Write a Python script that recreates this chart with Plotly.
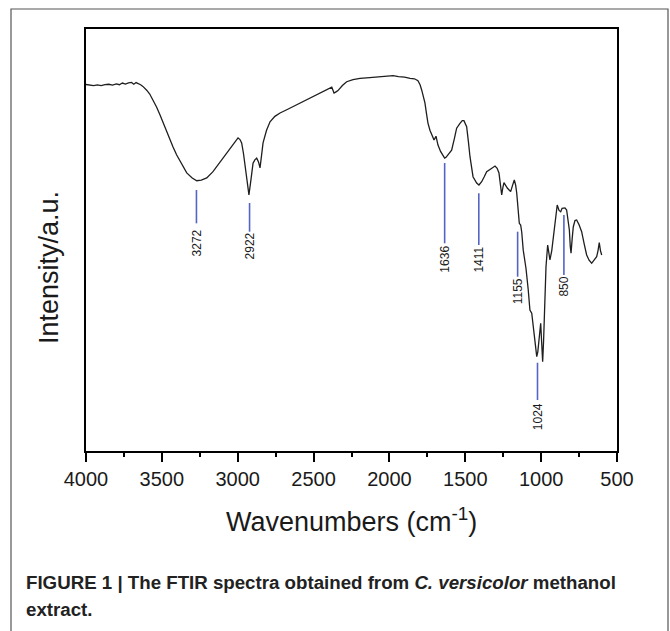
import plotly.graph_objects as go

# ---- data ----
wavenumber = [4000, 3975, 3950, 3925, 3900, 3875, 3850, 3825, 3800, 3780, 3760, 3740, 3720, 3700,
              3685, 3670, 3655, 3640, 3625, 3611, 3600, 3580, 3558, 3535, 3512, 3490, 3468, 3448,
              3427, 3403, 3380, 3358, 3336, 3300, 3270, 3240, 3204, 3163, 3130, 3097, 3065, 3031,
              3010, 2998, 2985, 2974, 2962, 2952, 2940, 2926, 2912, 2899, 2887, 2875, 2863, 2853,
              2843, 2833, 2810, 2787, 2755, 2721, 2680, 2636, 2580, 2524, 2470, 2413, 2380, 2372,
              2365, 2352, 2339, 2310, 2282, 2240, 2194, 2130, 2062, 2020, 1976, 1940, 1900, 1864,
              1835, 1812, 1798, 1787, 1776, 1766, 1756, 1746, 1733, 1721, 1706, 1693, 1680, 1663,
              1647, 1636, 1627, 1610, 1590, 1572, 1557, 1535, 1520, 1509, 1491, 1480, 1469, 1449,
              1425, 1410, 1392, 1375, 1359, 1330, 1304, 1290, 1278, 1268, 1260, 1252, 1245, 1223,
              1201, 1188, 1177, 1168, 1161, 1150, 1144, 1135, 1128, 1118, 1100, 1085, 1074, 1062,
              1052, 1040, 1029, 1022, 1016, 1010, 1003, 997, 990, 984, 979, 974, 968, 957, 950,
              942, 930, 920, 906, 894, 882, 871, 862, 854, 843, 832, 822, 814, 808, 803, 795, 788,
              777, 766, 750, 733, 716, 700, 684, 667, 650, 634, 625, 617, 609, 601]
intensity = [86.85, 86.7, 86.6, 86.75, 86.6, 86.8, 86.9, 86.7, 87.0, 86.8, 87.2, 86.95, 87.25, 87.35,
             86.9, 87.3, 87.1, 86.8, 86.4, 86.0, 85.5, 84.6, 83.2, 81.5, 79.6, 77.6, 75.7, 73.9,
             72.1, 70.2, 68.6, 67.1, 65.9, 64.7, 64.05, 64.2, 64.7, 66.2, 67.8, 69.4, 71.0, 72.5,
             73.6, 74.2, 73.8, 73.0, 70.5, 67.4, 64.5, 60.7, 64.5, 68.2, 69.0, 69.4, 68.5, 67.1,
             70.0, 73.0, 76.0, 78.0, 79.3, 80.1, 80.8, 81.6, 82.6, 83.6, 84.7, 85.7, 86.2, 85.5,
             84.8, 85.1, 85.4, 86.6, 87.5, 88.0, 88.3, 88.5, 88.7, 88.8, 88.95, 88.7, 88.6, 88.3,
             88.2, 87.75, 86.8, 85.5, 84.0, 82.5, 80.0, 77.7, 76.0, 74.9, 73.7, 74.6, 72.5, 71.0,
             70.1, 69.4, 69.6, 70.4, 71.3, 74.0, 76.5, 77.65, 78.3, 78.27, 76.85, 73.5, 69.74, 65.0,
             63.5, 63.03, 63.82, 65.0, 66.18, 66.9, 67.54, 67.0, 65.88, 63.0, 60.66, 62.5, 63.58, 62.32,
             61.45, 63.0, 64.22, 63.0, 61.14, 56.5, 53.96, 53.55, 51.9, 47.6, 43.3, 38.15, 33.41, 32.63,
             29.45, 25.5, 22.35, 23.5, 25.52, 28.0, 30.26, 26.0, 21.16, 26.0, 32.7, 38.0, 43.67, 48.82, 47.0,
             45.26, 47.5, 50.78, 55.0, 58.29, 57.0, 56.71, 57.5, 57.51, 57.6, 57.11, 55.0, 52.37, 48.5, 46.85, 50.5, 53.15,
             54.6, 54.74, 53.6, 51.97, 49.0, 46.45, 45.2, 44.48, 45.3, 46.04, 47.5, 49.36, 47.5, 46.45]

peak_wn = [3272, 2922, 1636, 1411, 1155, 1024, 850]
peak_line_top = [61.85, 58.77, 68.25, 61.07, 51.97, 20.92, 55.92]
peak_line_bottom = [53.95, 51.97, 49.22, 48.82, 41.30, 12.09, 41.71]
peak_label_y = [49.3, 48.6, 45.5, 45.3, 37.75, 8.13, 38.93]
peak_labels = [str(p) for p in peak_wn]

x_ticks = [4000, 3500, 3000, 2500, 2000, 1500, 1000, 500]

FONT = "Liberation Sans, Arial, Helvetica, sans-serif"

fig = go.Figure()

fig.add_trace(go.Scatter(x=wavenumber, y=intensity, mode="lines",
                         line=dict(color="#1e1e1e", width=1.3), hoverinfo="skip",
                         showlegend=False))

# peak marker lines
lx, ly = [], []
for w, t, b in zip(peak_wn, peak_line_top, peak_line_bottom):
    lx += [w, w, None]
    ly += [t, b, None]
fig.add_trace(go.Scatter(x=lx, y=ly, mode="lines",
                         line=dict(color="#5564c4", width=1.6), hoverinfo="skip",
                         showlegend=False))

for w, yl, txt in zip(peak_wn, peak_label_y, peak_labels):
    fig.add_annotation(x=w, y=yl, text=txt, showarrow=False, textangle=-90,
                       xanchor="center", yanchor="middle",
                       font=dict(family=FONT, size=12, color="#1a1a1a"))

# axis titles
fig.add_annotation(xref="paper", yref="paper", x=0.5, y=(451 - 520) / 422,
                   text="Wavenumbers (cm<sup>-1</sup>)", showarrow=False,
                   xanchor="center", yanchor="middle",
                   font=dict(family=FONT, size=27, color="#1a1a1a"))
fig.add_annotation(xref="paper", yref="paper", x=(49 - 86) / 531, y=(451 - 268) / 422,
                   text="Intensity/a.u.", showarrow=False, textangle=-90,
                   xanchor="center", yanchor="middle",
                   font=dict(family=FONT, size=27, color="#1a1a1a"))

# caption
fig.add_annotation(xref="paper", yref="paper", x=(24 - 86) / 531, y=(451 - 582) / 422,
                   text="<b>FIGURE 1 | The FTIR spectra obtained from <i>C. versicolor</i> methanol</b>",
                   showarrow=False, xanchor="left", yanchor="middle",
                   font=dict(family=FONT, size=18.7, color="#222222"))
fig.add_annotation(xref="paper", yref="paper", x=(24 - 86) / 531, y=(451 - 609) / 422,
                   text="<b>extract.</b>",
                   showarrow=False, xanchor="left", yanchor="middle",
                   font=dict(family=FONT, size=18.7, color="#222222"))

# outer frame (open at bottom)
x0 = (11 - 86) / 531
x1 = (668 - 86) / 531
y1 = (451 - 9) / 422
y0 = (451 - 660) / 422
fig.add_shape(type="path", xref="paper", yref="paper",
              path=f"M {x0},{y0} L {x0},{y1} L {x1},{y1} L {x1},{y0}",
              line=dict(color="#555555", width=1.2))

fig.update_xaxes(range=[4000, 500], tickvals=x_ticks, ticktext=[str(t) for t in x_ticks],
                 ticks="outside", ticklen=9, tickwidth=1.5, tickcolor="black",
                 minor=dict(dtick=250, ticks="outside", ticklen=4.5, tickwidth=1.5, tickcolor="black"),
                 showline=True, linecolor="black", linewidth=1.8, mirror=True,
                 showgrid=False, zeroline=False,
                 tickfont=dict(family=FONT, size=20, color="#1a1a1a"),
                 ticklabelstandoff=0)
fig.update_yaxes(range=[0, 100], showticklabels=False, ticks="",
                 showline=True, linecolor="black", linewidth=1.8, mirror=True,
                 showgrid=False, zeroline=False)

fig.update_layout(width=670, height=631, autosize=False,
                  margin=dict(l=86, r=53, t=29, b=180),
                  paper_bgcolor="white", plot_bgcolor="white")

fig.write_html("out.html", config={"displayModeBar": False},
               post_script="document.body.style.margin='0';document.body.style.overflow='hidden';")
